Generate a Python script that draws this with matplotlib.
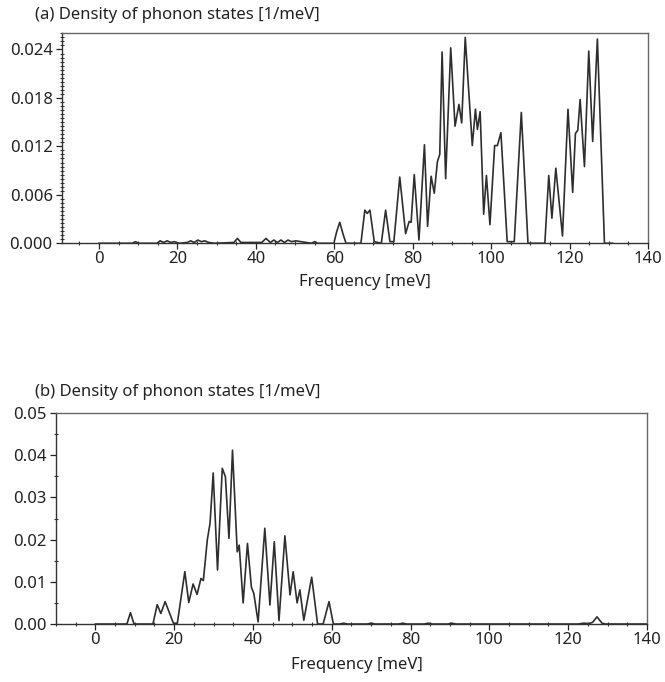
import matplotlib
matplotlib.use("Agg")
import matplotlib.pyplot as plt
from matplotlib.ticker import MultipleLocator, FormatStrFormatter

plt.rcParams['font.family'] = ['Noto Sans', 'DejaVu Sans']

# (a) phonon DOS, frequencies in meV
freq_a = [0, 8.5, 9.3, 10.1, 14.8, 15.6, 16.5, 17.4, 18.3, 19.2, 20.5, 22.5, 23.4,
          24.3, 25.2, 26.1, 27.0, 28.0, 29.5, 34.4, 35.3, 36.2, 41.5, 42.6, 43.7,
          44.6, 45.5, 46.4, 47.3, 48.2, 49.1, 50.2, 54.2, 55.0, 55.8, 59.9, 60.6,
          61.4, 62.2, 63.0, 66.8, 67.8, 68.4, 69.1, 70.2, 72.0, 73.1, 74.2, 75.2,
          76.7, 78.2, 79.1, 79.6, 80.4, 81.6, 83.0, 83.8, 84.7, 85.5, 86.3, 86.9,
          87.5, 88.4, 89.7, 90.8, 91.8, 92.5, 93.4, 95.2, 96.0, 96.5, 97.2, 98.1,
          98.8, 99.7, 100.9, 101.6, 102.5, 104.1, 105.9, 107.7, 109.4, 113.7,
          114.7, 115.5, 116.5, 118.2, 119.6, 120.8, 121.5, 122.1, 122.7, 123.8,
          124.9, 125.9, 127.1, 128.9, 131]
dos_a = [0, 0, 0.0002, 0, 0, 0.0003, 0.0001, 0.0003, 0.0001, 0.0002, 0, 0.0001,
         0.0003, 0.0001, 0.0004, 0.0002, 0.0003, 0.0001, 0, 0.0001, 0.0006, 0.0001,
         0.0001, 0.0006, 0.0001, 0.0004, 0.0001, 0.0004, 0.0001, 0.0004, 0.0002,
         0.0003, 0, 0.0002, 0, 0, 0.0014, 0.0026, 0.0012, 0, 0, 0.0041, 0.0037,
         0.0041, 0.0002, 0, 0.0041, 0.0002, 0.0002, 0.0082, 0.0012, 0.0027, 0.0026,
         0.0085, 0.0004, 0.0122, 0.0021, 0.0083, 0.0062, 0.0101, 0.0110, 0.0237,
         0.0080, 0.0242, 0.0145, 0.0172, 0.0149, 0.0255, 0.0121, 0.0166, 0.0141,
         0.0163, 0.0036, 0.0084, 0.0023, 0.0121, 0.0121, 0.0137, 0.0002, 0.0002,
         0.0162, 0, 0, 0.0084, 0.0031, 0.0093, 0.0009, 0.0166, 0.0063, 0.0136,
         0.0140, 0.0178, 0.0095, 0.0238, 0.0126, 0.0253, 0, 0]

# (b) phonon DOS
freq_b = [0, 8.0, 8.9, 9.8, 14.6, 15.7, 16.6, 17.7, 19.8, 20.8, 22.7, 23.7, 24.8,
          25.8, 26.8, 27.4, 28.4, 29.1, 29.9, 31.0, 32.2, 33.0, 33.9, 34.8, 36.0,
          36.5, 37.5, 38.6, 39.6, 40.2, 41.3, 43.0, 44.3, 45.4, 46.6, 48.1, 49.4,
          50.2, 51.2, 51.9, 52.9, 54.9, 56.4, 57.8, 59.3, 60.4, 62.0, 63.0, 64.0,
          69.0, 70.0, 71.0, 77.0, 78.0, 79.0, 83.5, 84.5, 85.5, 89.5, 90.5, 91.5,
          122.5, 124.0, 125.2, 126.2, 127.3, 128.6, 129.5, 140]
dos_b = [0, 0, 0.0027, 0, 0, 0.0046, 0.0025, 0.0053, 0.0002, 0.0002, 0.0124,
         0.0051, 0.0095, 0.0070, 0.0108, 0.0103, 0.0199, 0.0239, 0.0358, 0.0128,
         0.0369, 0.0349, 0.0203, 0.0412, 0.0171, 0.0187, 0.0050, 0.0191, 0.0087,
         0.0073, 0.0005, 0.0227, 0.0045, 0.0195, 0.0008, 0.0209, 0.0069, 0.0124,
         0.0050, 0.0081, 0.0009, 0.0111, 0, 0, 0.0053, 0, 0, 0.0002, 0,
         0, 0.0002, 0, 0, 0.0002, 0, 0, 0.0002, 0, 0, 0.0002, 0,
         0, 0.0002, 0.0001, 0.0004, 0.0017, 0.0002, 0, 0]

fig = plt.figure(figsize=(6.65, 6.82), dpi=100)
ax_a = fig.add_axes([0.0928, 0.6433, 0.8816, 0.3090])
ax_b = fig.add_axes([0.0842, 0.0850, 0.8887, 0.3094])

line_kw = dict(color='#2e2e2e', lw=1.2, solid_joinstyle='round')
ax_a.plot(freq_a, dos_a, **line_kw)
ax_b.plot(freq_b, dos_b, **line_kw)

ax_a.set_xlim(-9.5, 140)
ax_a.set_ylim(0, 0.0261)
ax_a.yaxis.set_major_locator(MultipleLocator(0.006))
ax_a.yaxis.set_minor_locator(MultipleLocator(0.0005))
ax_a.yaxis.set_major_formatter(FormatStrFormatter('%.3f'))

ax_b.set_xlim(-10, 140)
ax_b.set_ylim(0, 0.05)
ax_b.yaxis.set_major_locator(MultipleLocator(0.01))
ax_b.yaxis.set_minor_locator(MultipleLocator(0.005))
ax_b.yaxis.set_major_formatter(FormatStrFormatter('%.2f'))

for ax in (ax_a, ax_b):
    ax.xaxis.set_major_locator(MultipleLocator(20))
    ax.xaxis.set_minor_locator(MultipleLocator(5))
    ax.tick_params(which='major', direction='out', length=4, width=0.9,
                   labelsize=12, pad=2.5, colors='#222222')
    ax.tick_params(which='minor', direction='inout', length=3.5, width=0.8,
                   colors='#333333')
    ax.tick_params(axis='x', which='major', pad=1.5)
    for side in ('left', 'bottom'):
        ax.spines[side].set_color('#333333')
        ax.spines[side].set_linewidth(1.0)
    for side in ('top', 'right'):
        ax.spines[side].set_color('#666666')
        ax.spines[side].set_linewidth(1.0)
    ax.set_xlabel('Frequency [meV]', fontsize=12, color='#222222')

ax_a.xaxis.set_label_coords(0.517, -0.184)
ax_b.xaxis.set_label_coords(0.509, -0.194)
for lbl in (ax_a.xaxis.label, ax_b.xaxis.label):
    lbl.set_va('center')

fig.text(0.0526, 0.978, '(a) Density of phonon states [1/meV]', fontsize=12,
         va='center', ha='left', color='#222222')
fig.text(0.0526, 0.4257, '(b) Density of phonon states [1/meV]', fontsize=12,
         va='center', ha='left', color='#222222')

fig.savefig('out.png', dpi=100)
